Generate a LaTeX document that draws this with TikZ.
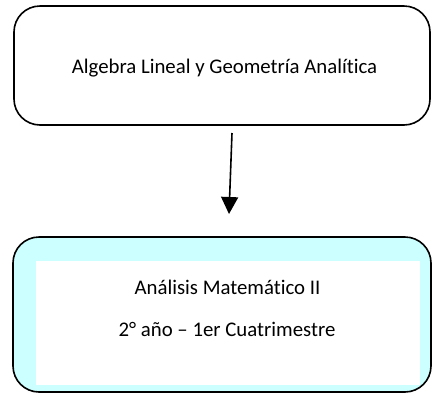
\documentclass[tikz,border=0pt]{standalone}
\usepackage{fontspec}
\setmainfont{Carlito}[Ligatures={NoCommon}]
\usetikzlibrary{arrows.meta}
\definecolor{boxcyan}{HTML}{CCFFFF}
\tikzset{
  roundbox/.style={draw=black, line width=1.6pt, rounded corners=26pt},
  lbl/.style={font=\fontsize{20.8}{24}\selectfont, inner sep=0pt},
  arr/.style={line width=1.6pt, -{Triangle[length=17pt,width=17pt]}}
}
\begin{document}
\begin{tikzpicture}[x=1pt,y=-1pt]
\useasboundingbox (0,0) rectangle (432,400);
% top box
\draw[roundbox, fill=white] (14,6) rectangle (430,125);
\node[lbl] (top) at (224.5,68) {Algebra Lineal y Geometría Analítica};
\coordinate (topb) at (232,133);
% bottom box
\draw[roundbox, fill=boxcyan] (13,237) rectangle (431,392);
\fill[white] (36,261) rectangle (420,385);
\node[lbl] (l1) at (227.5,287) {Análisis Matemático II};
\node[lbl] (l2) at (227,329) {2° año – 1er Cuatrimestre};
\coordinate (bott) at (229,214);
\draw[arr] (topb) -- (bott);
\end{tikzpicture}
\end{document}
